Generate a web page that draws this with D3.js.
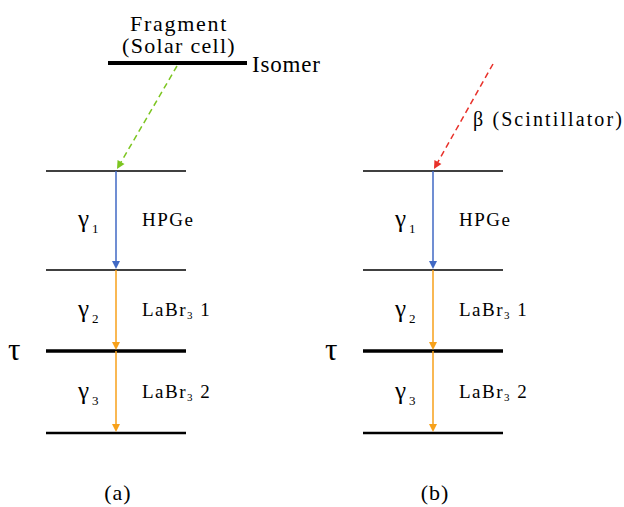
<!DOCTYPE html>
<html><head><meta charset="utf-8"><script src="https://cdn.jsdelivr.net/npm/d3@7"></script></head>
<body style="margin:0;background:#fff">
<svg id="c" width="624" height="507"></svg>
<script>
// Data
const panels = ["(a)", "(b)"];
const levelEnergies = [0, 82, 163, 262];          // bottom → top (arbitrary units)
const levelWeights = [2.5, 3.5, 1.5, 1.5];
const isomerEnergy = 370;
const gammas = [
  {name:"1", from:262, to:163, det:"HPGe", sub:"", tail:""},
  {name:"2", from:163, to:82, det:"LaBr", sub:"3", tail:" 1"},
  {name:"3", from:82, to:0, det:"LaBr", sub:"3", tail:" 2"}
];
const gammaColors = ["#4169C4", "#F7A11A", "#F7A11A"];
const feeders = [
  {panel:0, label:"Fragment", label2:"(Solar cell)", color:"#7CC520"},
  {panel:1, label:"β (Scintillator)", color:"#E8312A"}
];

const svg = d3.select("#c");
const y = d3.scaleLinear().domain([0, isomerEnergy]).range([433, 63]);
const panelX = d3.scaleOrdinal().domain([0,1]).range([46, 363]);
const levelW = 140, arrowOff = 70;

function txt(g, x, yy, size, s) {
  const t = g.append("text").attr("x", x).attr("y", yy)
    .style("font-family", '"Liberation Serif"').attr("font-size", size);
  if (s) t.text(s);
  return t;
}
function arrowHead(g, x, yTip, color, ang) {
  const L = 8, W = 4;
  const bx = x - L*Math.cos(ang), by = yTip - L*Math.sin(ang);
  const px = -Math.sin(ang)*W, py = Math.cos(ang)*W;
  g.append("path").attr("d", `M${x},${yTip}L${bx+px},${by+py}L${bx-px},${by-py}Z`).attr("fill", color);
}

panels.forEach((p, i) => {
  const g = svg.append("g");
  const x0 = panelX(i), xa = x0 + arrowOff;
  levelEnergies.forEach((e, k) => {
    g.append("line").attr("x1", x0).attr("x2", x0 + levelW)
      .attr("y1", y(e)).attr("y2", y(e)).attr("stroke", "#000").attr("stroke-width", levelWeights[k]);
  });
  gammas.forEach((gm, k) => {
    const y1 = y(gm.from), y2 = y(gm.to) - 1;
    g.append("line").attr("x1", xa).attr("x2", xa).attr("y1", y1).attr("y2", y2 - 6)
      .attr("stroke", gammaColors[k]).attr("stroke-width", 1.5);
    arrowHead(g, xa, y2, gammaColors[k], Math.PI/2);
    const ym = (y1 + y2) / 2;
    const t = txt(g, xa - 38, ym + 7, 25);
    t.append("tspan").text("γ");
    t.append("tspan").attr("font-size", 13).attr("dx", 3).attr("dy", 6).text(gm.name);
    const d = txt(g, xa + 26, ym + 6, 19).attr("letter-spacing", 1.5);
    d.append("tspan").text(gm.det);
    if (gm.sub) { d.append("tspan").attr("font-size", 11).attr("dy", 3).text(gm.sub);
                  d.append("tspan").attr("dy", -3).text(gm.tail); }
  });
  txt(g, x0 - 38, y(82) + 9, 31, "τ");
  txt(g, xa + 2, 500, 22, p).attr("text-anchor", "middle").attr("letter-spacing", 1);
});

const fa = feeders[0];
const gA = svg.append("g");
gA.append("line").attr("x1", 108).attr("x2", 247).attr("y1", y(isomerEnergy)).attr("y2", y(isomerEnergy))
  .attr("stroke", "#000").attr("stroke-width", 4);
txt(gA, 252, 72, 23, "Isomer").attr("letter-spacing", 0.8);
txt(gA, 179, 31, 22, fa.label).attr("text-anchor", "middle").attr("letter-spacing", 1.7);
txt(gA, 179, 53, 22, fa.label2).attr("text-anchor", "middle").attr("letter-spacing", 1.3);

function feeder(color, xs, ys, xe, ye) {
  const ang = Math.atan2(ye - ys, xe - xs);
  svg.append("line").attr("x1", xs).attr("y1", ys)
    .attr("x2", xe - 7*Math.cos(ang)).attr("y2", ye - 7*Math.sin(ang))
    .attr("stroke", color).attr("stroke-width", 1.5).attr("stroke-dasharray", "6,4");
  arrowHead(svg, xe, ye, color, ang);
}
feeder(fa.color, 177, y(isomerEnergy) + 3, panelX(0) + arrowOff + 1, y(262) - 2);
const fb = feeders[1];
feeder(fb.color, 493, 64, panelX(1) + arrowOff + 1, y(262) - 2);
txt(svg, 473, 126, 20, fb.label).attr("letter-spacing", 2.1);
</script></body></html>
